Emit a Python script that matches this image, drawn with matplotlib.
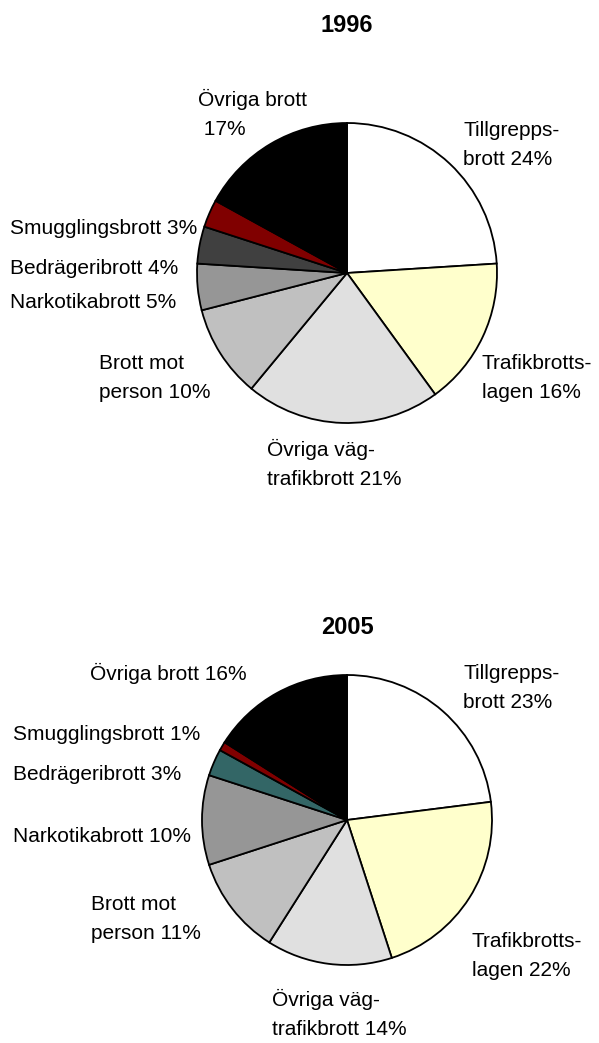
"""
plot.py — Brottsfördelning 1996 och 2005, två cirkeldiagram
"""

import matplotlib
matplotlib.use("Agg")
import matplotlib.pyplot as plt

plt.rcParams["font.family"] = ["Liberation Sans", "DejaVu Sans"]

# ── Data ────────────────────────────────────────────────────────────────────
names_1996 = ["Tillgrepps-\nbrott", "Trafikbrotts-\nlagen", "Övriga väg-\ntrafikbrott",
              "Brott mot\nperson", "Narkotikabrott", "Bedrägeribrott",
              "Smugglingsbrott", "Övriga brott\n"]
shares_1996 = [24, 16, 21, 10, 5, 4, 3, 17]

names_2005 = ["Tillgrepps-\nbrott", "Trafikbrotts-\nlagen", "Övriga väg-\ntrafikbrott",
              "Brott mot\nperson", "Narkotikabrott", "Bedrägeribrott",
              "Smugglingsbrott", "Övriga brott"]
shares_2005 = [23, 22, 14, 11, 10, 3, 1, 16]

colors_1996 = ["#FFFFFF", "#FFFFCC", "#E0E0E0", "#C0C0C0", "#969696",
               "#404040", "#800000", "#000000"]
colors_2005 = ["#FFFFFF", "#FFFFCC", "#E0E0E0", "#C0C0C0", "#969696",
               "#336666", "#800000", "#000000"]

# ── Layout (pixel coords, origin top-left) ──────────────────────────────────
W, H = 599, 1043
label_pos_1996 = [(463, 145), (482, 378), (267, 464), (99, 378),
                  (10, 303), (10, 268), (10, 228), (198, 114)]
label_pos_2005 = [(463, 688), (472, 956), (272, 1014), (91, 919),
                  (13, 836), (13, 775), (13, 735), (90, 673)]

fig = plt.figure(figsize=(W / 100, H / 100), dpi=100)
ax = fig.add_axes([0, 0, 1, 1])


def draw_pie(title, title_y, center, radius, names, shares, colors, label_pos):
    cx, cy = center
    ax.pie(shares, colors=colors, startangle=90, counterclock=False,
           center=(cx, H - cy), radius=radius,
           wedgeprops=dict(edgecolor="black", linewidth=1.3))
    ax.text(cx, H - title_y, title, ha="center", va="center",
            fontsize=17, fontweight="bold")
    for name, share, (x, y) in zip(names, shares, label_pos):
        txt = f"{name} {share}%"
        ax.text(x, H - y, txt, ha="left", va="center", fontsize=15,
                linespacing=1.65, color="black")


draw_pie("1996", 25, (347, 273), 150, names_1996, shares_1996,
         colors_1996, label_pos_1996)
draw_pie("2005", 627, (347, 820), 145, names_2005, shares_2005,
         colors_2005, label_pos_2005)

ax.set_xlim(0, W)
ax.set_ylim(0, H)
ax.set_aspect("equal")
ax.axis("off")

plt.savefig("out.png", dpi=100)
plt.close()
